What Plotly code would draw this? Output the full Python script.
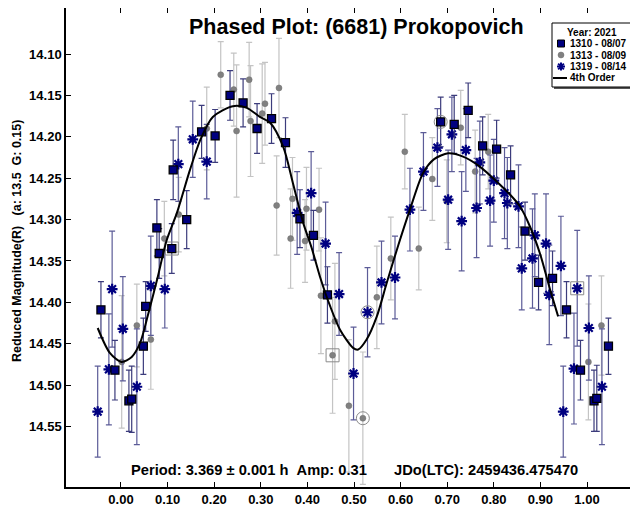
import plotly.graph_objects as go

# ---------------- data ----------------
# 1310 - 08/07 (navy squares)
sq_phase = [-0.043, -0.013, 0.017, 0.023, 0.048, 0.053, 0.077, 0.082, 0.109, 0.112,
            0.141, 0.173, 0.202, 0.234, 0.262, 0.292, 0.323, 0.353, 0.384, 0.413,
            0.443, 0.686, 0.715, 0.745, 0.776, 0.806, 0.836, 0.867, 0.896, 0.926,
            0.956, 0.986, 1.015, 1.021, 1.046]
sq_mag = [14.409, 14.482, 14.519, 14.517, 14.453, 14.405, 14.310, 14.341, 14.335, 14.240,
          14.300, 14.194, 14.199, 14.150, 14.159, 14.190, 14.178, 14.207, 14.299, 14.319,
          14.391, 14.182, 14.185, 14.168, 14.211, 14.215, 14.246, 14.314, 14.376, 14.371,
          14.409, 14.482, 14.519, 14.516, 14.453]
sq_err = [0.034, 0.036, 0.037, 0.040, 0.034, 0.030, 0.034, 0.030, 0.030, 0.036,
          0.035, 0.032, 0.032, 0.030, 0.029, 0.030, 0.030, 0.030, 0.035, 0.030,
          0.034, 0.030, 0.035, 0.033, 0.035, 0.035, 0.035, 0.035, 0.033, 0.033,
          0.034, 0.036, 0.037, 0.040, 0.034]

# 1313 - 08/09 (gray circles)
ci_phase = [0.0015, 0.034, 0.064, 0.093, 0.124, 0.184, 0.214, 0.242, 0.248, 0.275,
            0.278, 0.303, 0.309, 0.339, 0.334, 0.364, 0.368, 0.395, 0.398, 0.425,
            0.429, 0.454, 0.459, 0.489, 0.519, 0.549, 0.579, 0.609, 0.639, 0.668,
            0.699, 0.729, 0.760, 0.788, 1.003, 1.031]
ci_mag = [14.472, 14.428, 14.445, 14.323, 14.294, 14.190, 14.125, 14.143, 14.193, 14.131,
          14.181, 14.172, 14.160, 14.141, 14.283, 14.323, 14.275, 14.326, 14.287, 14.288,
          14.392, 14.464, 14.423, 14.525, 14.540, 14.394, 14.347, 14.218, 14.335, 14.251,
          14.278, 14.189, 14.242, 14.218, 14.472, 14.428]
ci_err = [0.080, 0.050, 0.060, 0.045, 0.045, 0.050, 0.040, 0.044, 0.080, 0.045,
          0.067, 0.060, 0.050, 0.060, 0.060, 0.060, 0.050, 0.050, 0.050, 0.050,
          0.070, 0.070, 0.070, 0.080, 0.080, 0.062, 0.050, 0.045, 0.050, 0.050,
          0.050, 0.045, 0.050, 0.045, 0.070, 0.060]

# 1319 - 08/14 (navy asterisks)
st_phase = [-0.050, -0.026, -0.019, 0.004, 0.034, 0.064, 0.094, 0.123, 0.154, 0.184,
            0.378, 0.408, 0.439, 0.468, 0.499, 0.529, 0.559, 0.588, 0.620, 0.649,
            0.679, 0.702, 0.710, 0.731, 0.740, 0.763, 0.770, 0.792, 0.800, 0.823,
            0.829, 0.853, 0.860, 0.883, 0.888, 0.912, 0.919, 0.944, 0.949, 0.972,
            0.979, 1.004, 1.032]
st_mag = [14.532, 14.481, 14.384, 14.432, 14.502, 14.380, 14.384, 14.233, 14.203, 14.230,
          14.292, 14.268, 14.329, 14.390, 14.486, 14.412, 14.376, 14.370, 14.288, 14.242,
          14.213, 14.276, 14.197, 14.302, 14.216, 14.286, 14.231, 14.277, 14.253, 14.268,
          14.280, 14.284, 14.359, 14.347, 14.319, 14.329, 14.391, 14.356, 14.532, 14.480,
          14.383, 14.431, 14.502]
st_err = [0.055, 0.067, 0.070, 0.063, 0.070, 0.060, 0.047, 0.045, 0.046, 0.045,
          0.050, 0.050, 0.050, 0.050, 0.056, 0.054, 0.050, 0.050, 0.050, 0.047,
          0.047, 0.060, 0.045, 0.060, 0.050, 0.060, 0.050, 0.055, 0.050, 0.055,
          0.055, 0.050, 0.050, 0.060, 0.050, 0.060, 0.060, 0.060, 0.055, 0.067,
          0.070, 0.063, 0.070]

# highlighted points (outlined in the reference)
box_phase = [0.109, 0.454, 0.979]
box_mag = [14.335, 14.464, 14.383]
ring_phase = [0.686, 0.519, 0.529]
ring_mag = [14.182, 14.540, 14.412]

# 4th order fit curve
fit_phase = [-0.050, -0.024, 0.001, 0.023, 0.041, 0.058, 0.079, 0.098, 0.120, 0.148,
             0.170, 0.197, 0.240, 0.270, 0.298, 0.320, 0.348, 0.369, 0.391, 0.409,
             0.427, 0.449, 0.470, 0.498, 0.509, 0.527, 0.549, 0.570, 0.595, 0.620,
             0.648, 0.672, 0.702, 0.734, 0.770, 0.806, 0.835, 0.856, 0.878, 0.899,
             0.921, 0.938]
fit_mag = [14.431, 14.461, 14.472, 14.466, 14.449, 14.415, 14.369, 14.325, 14.292, 14.240,
           14.204, 14.176, 14.163, 14.165, 14.176, 14.183, 14.212, 14.256, 14.304, 14.334,
           14.369, 14.405, 14.433, 14.455, 14.457, 14.445, 14.417, 14.377, 14.331, 14.288,
           14.244, 14.227, 14.220, 14.224, 14.236, 14.254, 14.270, 14.284, 14.309, 14.341,
           14.385, 14.417]

x_ticks = [0.0, 0.1, 0.2, 0.3, 0.4, 0.5, 0.6, 0.7, 0.8, 0.9, 1.0]
y_ticks = [14.10, 14.15, 14.20, 14.25, 14.30, 14.35, 14.40, 14.45, 14.50, 14.55]

title_text = "Phased Plot: (6681) Prokopovich"
period_text = "Period: 3.369 ± 0.001 h&nbsp;&nbsp;Amp: 0.31"
jd_text = "JDo(LTC): 2459436.475470"
yaxis_text = "Reduced Magnitude(R)&nbsp;&nbsp;&nbsp;(a: 13.5&nbsp;&nbsp;G: 0.15)"
legend_title = "Year: 2021"
legend_names = ["1310 - 08/07", "1313 - 08/09", "1319 - 08/14", "4th Order"]

FONT = "Liberation Sans, Arial, sans-serif"
NAVY = "#000080"

# the page body adds an 8px offset; lay the figure out in reference pixels minus 8
OFF = 8
W, H = 638 - OFF, 508 - OFF
ML, MR, MT, MB = 66 - OFF, 0, 0, 21
PW, PH = W - ML - MR, H - MT - MB


def px(x):  # reference pixel x -> paper
    return (x - OFF - ML) / PW


def py(y):  # reference pixel y -> paper
    return 1 - (y - OFF - MT) / PH


fig = go.Figure()

fig.add_trace(go.Scatter(
    x=ci_phase, y=ci_mag, mode="markers", name=legend_names[1], showlegend=False,
    marker=dict(symbol="circle", size=6, color="#808080", line=dict(color="#6e6e6e", width=0.5)),
    error_y=dict(type="data", array=ci_err, color="#c4c4c4", thickness=1.2, width=3),
))
fig.add_trace(go.Scatter(
    x=st_phase, y=st_mag, mode="markers", name=legend_names[2], showlegend=False,
    marker=dict(symbol="asterisk", size=9, color=NAVY, line=dict(color=NAVY, width=2.2)),
    error_y=dict(type="data", array=st_err, color="#5c5c98", thickness=1.2, width=3),
))
fig.add_trace(go.Scatter(
    x=sq_phase, y=sq_mag, mode="markers", name=legend_names[0], showlegend=False,
    marker=dict(symbol="square", size=8, color=NAVY, line=dict(color="black", width=1.3)),
    error_y=dict(type="data", array=sq_err, color="#3c3c7c", thickness=1.2, width=3),
))
fig.add_trace(go.Scatter(
    x=box_phase, y=box_mag, mode="markers", showlegend=False, hoverinfo="skip",
    marker=dict(symbol="square-open", size=13, color="#8a8a8a", line=dict(width=1)),
))
fig.add_trace(go.Scatter(
    x=ring_phase, y=ring_mag, mode="markers", showlegend=False, hoverinfo="skip",
    marker=dict(symbol="circle-open", size=13, color="#8a8a8a", line=dict(width=1)),
))
fig.add_trace(go.Scatter(
    x=fit_phase, y=fit_mag, mode="lines", name=legend_names[3], showlegend=False,
    line=dict(color="black", width=2, shape="spline", smoothing=0.8),
))

fig.update_layout(
    width=W, height=H,
    margin=dict(l=ML, r=MR, t=MT, b=MB, autoexpand=False),
    paper_bgcolor="white", plot_bgcolor="white",
    font=dict(family=FONT, size=12, color="black"),
    showlegend=False,
    xaxis=dict(
        range=[-0.118, 1.1094], tickvals=x_ticks, tickformat=".2f",
        ticks="inside", ticklen=5, tickcolor="black", tickwidth=1,
        showline=True, linecolor="black", linewidth=1.5, mirror="ticks",
        showgrid=False, zeroline=False, automargin=False,
        tickfont=dict(family=FONT, size=13, weight="bold"),
    ),
    yaxis=dict(
        range=[14.6231, 14.0444], tickvals=y_ticks, tickformat=".2f",
        ticks="inside", ticklen=5, tickcolor="black", tickwidth=1,
        showline=True, linecolor="black", linewidth=1.5, mirror="ticks",
        showgrid=False, zeroline=False, automargin=False,
        tickfont=dict(family=FONT, size=13, weight="bold"),
    ),
)

# titles / info texts
fig.add_annotation(x=px(356), y=py(27), xref="paper", yref="paper", text="<b>" + title_text + "</b>",
                   showarrow=False, font=dict(family=FONT, size=21.5, color="black"),
                   xanchor="center", yanchor="middle")
fig.add_annotation(x=px(131), y=py(470), xref="paper", yref="paper", text="<b>" + period_text + "</b>",
                   showarrow=False, font=dict(family=FONT, size=14.7, color="black"),
                   xanchor="left", yanchor="middle", xshift=-2)
fig.add_annotation(x=px(394), y=py(470), xref="paper", yref="paper", text="<b>" + jd_text + "</b>",
                   showarrow=False, font=dict(family=FONT, size=14.7, color="black"),
                   xanchor="left", yanchor="middle", xshift=-2)
fig.add_annotation(x=px(17), y=py(241), xref="paper", yref="paper", text="<b>" + yaxis_text + "</b>",
                   showarrow=False, textangle=-90, font=dict(family=FONT, size=12.5, color="black"),
                   xanchor="center", yanchor="middle")

# ---------------- legend box (drawn) ----------------
fig.add_shape(type="rect", xref="paper", yref="paper", x0=px(554), x1=px(634), y0=py(89), y1=py(25),
              fillcolor="#555555", line=dict(width=0), layer="above")
fig.add_shape(type="rect", xref="paper", yref="paper", x0=px(552), x1=px(632), y0=py(87), y1=py(23),
              fillcolor="white", line=dict(color="black", width=1), layer="above")

row_y = [43.5, 55.0, 66.5, 78.0]
fig.add_annotation(x=px(592), y=py(32), xref="paper", yref="paper", text="<b>" + legend_title + "</b>",
                   showarrow=False, font=dict(family=FONT, size=10, color="black"),
                   xanchor="center", yanchor="middle")
for name, ry in zip(legend_names, row_y):
    fig.add_annotation(x=px(567.5), y=py(ry), xref="paper", yref="paper", text="<b>" + name + "</b>",
                       showarrow=False, font=dict(family=FONT, size=10, color="black"),
                       xanchor="left", yanchor="middle")

# square key
fig.add_shape(type="rect", xref="paper", yref="paper", x0=px(557.5), x1=px(564.5),
              y0=py(row_y[0] + 3.5), y1=py(row_y[0] - 3.5),
              fillcolor=NAVY, line=dict(color="black", width=1), layer="above")
# circle key
fig.add_shape(type="circle", xref="paper", yref="paper", x0=px(558), x1=px(564),
              y0=py(row_y[1] + 3), y1=py(row_y[1] - 3),
              fillcolor="#808080", line=dict(color="#6e6e6e", width=0.5), layer="above")
# asterisk key
cx, cy, r = 561, row_y[2], 4
for dx, dy in [(r, 0), (0, r), (r * 0.72, r * 0.72), (r * 0.72, -r * 0.72)]:
    fig.add_shape(type="line", xref="paper", yref="paper",
                  x0=px(cx - dx), x1=px(cx + dx), y0=py(cy - dy), y1=py(cy + dy),
                  line=dict(color=NAVY, width=2), layer="above")
# line key
fig.add_shape(type="line", xref="paper", yref="paper", x0=px(553), x1=px(567),
              y0=py(row_y[3]), y1=py(row_y[3]), line=dict(color="black", width=2), layer="above")

fig.write_html("out.html")
